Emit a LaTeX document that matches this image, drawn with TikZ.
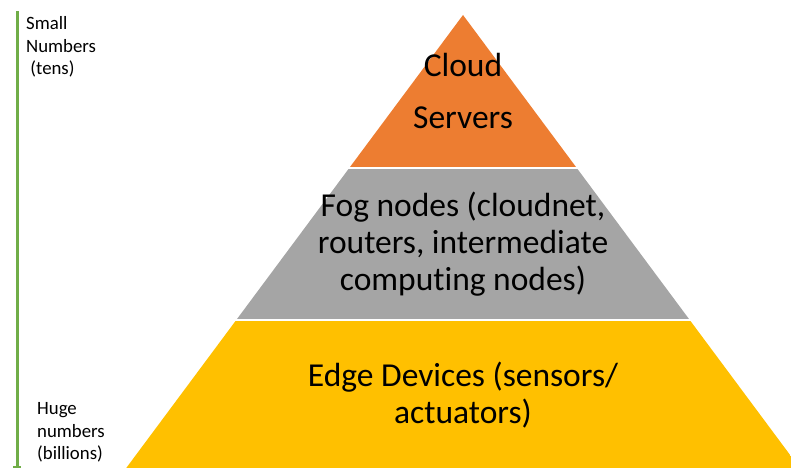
\documentclass[tikz,border=0pt]{standalone}
\usepackage{fontspec}
\setmainfont[Ligatures=NoCommon]{Carlito}
\definecolor{cloudorange}{HTML}{ED7D31}
\definecolor{foggray}{HTML}{A5A5A5}
\definecolor{edgeyellow}{HTML}{FFC000}
\definecolor{axisgreen}{HTML}{70AD47}
\begin{document}
\begin{tikzpicture}[x=1pt,y=-1pt,
  layertext/.style={align=center,font=\fontsize{33.5}{37}\selectfont,text=black,inner sep=0pt},
  sidetext/.style={align=left,anchor=north west,font=\fontsize{18.8}{22.8}\selectfont,text=black,inner sep=0pt}]
  \useasboundingbox (0,0) rectangle (791,468);
  \clip (0,0) rectangle (791,468);
  % pyramid outline: apex and base far below the page
  \coordinate (apex) at (463,15);
  \begin{scope}
    \clip (apex) -- ({463-0.7434*600},615) -- ({463+0.7434*600},615) -- cycle;
    \fill[cloudorange] (0,0) rectangle (791,167);
    \fill[foggray] (0,169) rectangle (791,319);
    \fill[edgeyellow] (0,321) rectangle (791,468);
  \end{scope}
  % layer labels
  \node[layertext,font=\fontsize{33.5}{52}\selectfont] (cloud) at (463,91) {Cloud\\Servers};
  \node[layertext] (fog) at (463,244) {Fog nodes (cloudnet,\\routers, intermediate\\computing nodes)};
  \node[layertext] (edge) at (463,395) {Edge Devices (sensors/\\actuators)};
  % scale axis on the left
  \coordinate (axtop) at (17,11);
  \coordinate (axbot) at (17,468);
  \draw[axisgreen,line width=3pt] (axtop) -- (axbot);
  \draw[axisgreen,line width=2pt] (13,467) -- (21,467);
  \node[sidetext] (small) at (26,16) {Small\\Numbers\\\ (tens)};
  \node[sidetext] (huge) at (37,402) {Huge\\numbers\\(billions)};
\end{tikzpicture}
\end{document}
